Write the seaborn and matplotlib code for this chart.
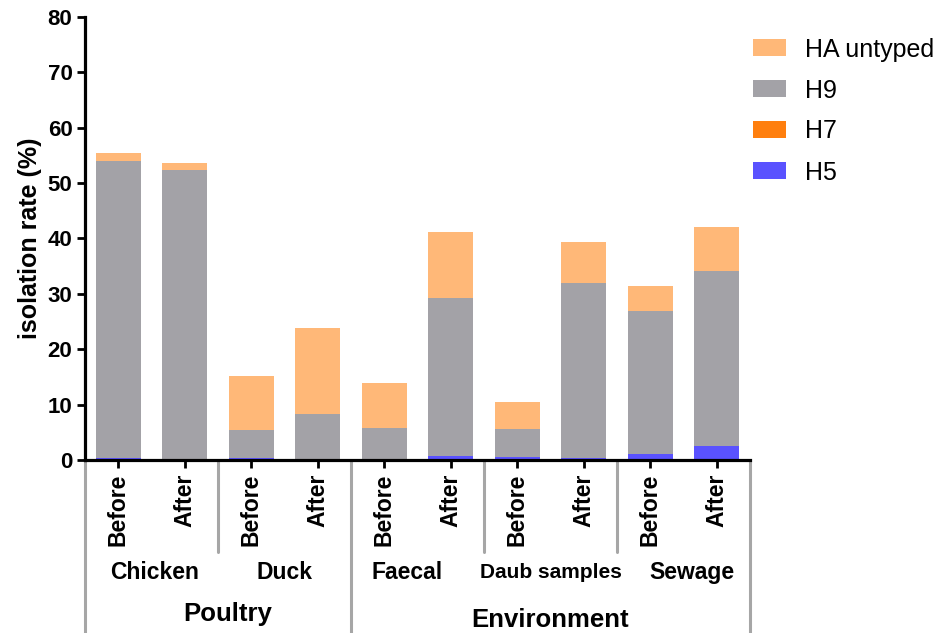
import matplotlib
matplotlib.use("Agg")
import matplotlib.pyplot as plt
import matplotlib.transforms as mtransforms
from matplotlib.patches import Patch
import seaborn as sns
import pandas as pd
import numpy as np

# ---- data ----
subgroups = ["Chicken", "Duck", "Faecal", "Daub samples", "Sewage"]
groups = ["Poultry", "Environment"]
periods = ["Before", "After"]
bar_ids = ["Chicken Before", "Chicken After", "Duck Before", "Duck After",
           "Faecal Before", "Faecal After", "Daub Before", "Daub After",
           "Sewage Before", "Sewage After"]
h5 = [0.3, 0.1, 0.3, 0.1, 0.0, 0.7, 0.5, 0.4, 1.1, 2.6]
h7 = [0.0, 0.0, 0.0, 0.0, 0.0, 0.0, 0.0, 0.0, 0.0, 0.0]
h9 = [53.7, 52.2, 5.1, 8.2, 5.8, 28.6, 5.1, 31.5, 25.8, 31.5]
ha_untyped = [1.4, 1.3, 9.8, 15.5, 8.1, 11.9, 4.8, 7.4, 4.5, 8.0]

series_names = ["HA untyped", "H9", "H7", "H5"]
colors = {"HA untyped": "#FFB878", "H9": "#A3A2A7", "H7": "#FF7F0E", "H5": "#5A52FF"}

sns.set_style("white")
plt.rcParams["font.family"] = ["Liberation Sans", "DejaVu Sans"]
plt.rcParams["text.color"] = "black"
plt.rcParams["axes.labelcolor"] = "black"
plt.rcParams["xtick.color"] = "black"
plt.rcParams["ytick.color"] = "black"

df = pd.DataFrame({"bar": bar_ids, "H5": h5, "H7": h7, "H9": h9, "HA": ha_untyped})
df["c_h5"] = df["H5"]
df["c_h7"] = df["c_h5"] + df["H7"]
df["c_h9"] = df["c_h7"] + df["H9"]
df["c_ha"] = df["c_h9"] + df["HA"]

fig = plt.figure(figsize=(9.4, 6.33), dpi=100)
ax = fig.add_axes([85 / 940, (633 - 460) / 633, (750 - 85) / 940, (460 - 17) / 633])

for col, name in [("c_ha", "HA untyped"), ("c_h9", "H9"), ("c_h7", "H7"), ("c_h5", "H5")]:
    sns.barplot(data=df, x="bar", y=col, order=bar_ids, color=colors[name],
                width=0.68, linewidth=0, saturation=1, ax=ax, errorbar=None)

ax.set_xlim(-0.5, 9.5)
ax.set_ylim(0, 80)
ax.set_yticks(np.arange(0, 81, 10))
ax.set_ylabel("isolation rate (%)", fontsize=18, fontweight="bold", labelpad=4)
ax.set_xlabel("")

for s in ["top", "right"]:
    ax.spines[s].set_visible(False)
for s in ["left", "bottom"]:
    ax.spines[s].set_linewidth(2.3)
    ax.spines[s].set_color("black")

ax.tick_params(axis="y", direction="out", length=6, width=2, labelsize=16, pad=3, left=True)
ax.tick_params(axis="x", direction="out", length=6, width=2, pad=4, bottom=True)
for lab in ax.get_yticklabels():
    lab.set_fontweight("bold")
ax.set_xticks(range(len(bar_ids)))
ax.set_xticklabels(periods * len(subgroups), rotation=90, fontsize=16.5, fontweight="bold")

trans = mtransforms.blended_transform_factory(ax.transData, ax.transAxes)
gray = "#A6A6A6"
# short separators between subgroups
for xs in [1.5, 5.5, 7.5]:
    ax.plot([xs, xs], [0, -0.208], transform=trans, color=gray, lw=2.2, clip_on=False)
# long separators between groups
for xs in [-0.5, 3.5, 9.5]:
    ax.plot([xs, xs], [0, -0.40], transform=trans, color=gray, lw=2.2, clip_on=False)

sub_pos = [0.55, 2.5, 4.35, 6.5, 8.62]
for name, xp in zip(subgroups, sub_pos):
    fs = 15 if name == "Daub samples" else 16.5
    ax.text(xp, -0.253, name, transform=trans, ha="center", va="center",
            fontsize=fs, fontweight="bold")
ax.text(1.65, -0.348, groups[0], transform=trans, ha="center", va="center",
        fontsize=18.5, fontweight="bold")
ax.text(6.5, -0.362, groups[1], transform=trans, ha="center", va="center",
        fontsize=18.5, fontweight="bold")

handles = [Patch(facecolor=colors[n], edgecolor="none") for n in series_names]
fig.legend(handles, series_names, loc="upper left", bbox_to_anchor=(745 / 940, 1 - 30 / 633),
           frameon=False, fontsize=18, handlelength=1.35, handleheight=0.65,
           handletextpad=0.75, labelspacing=0.68, borderaxespad=0, borderpad=0.3)

fig.savefig("out.png", dpi=100)
